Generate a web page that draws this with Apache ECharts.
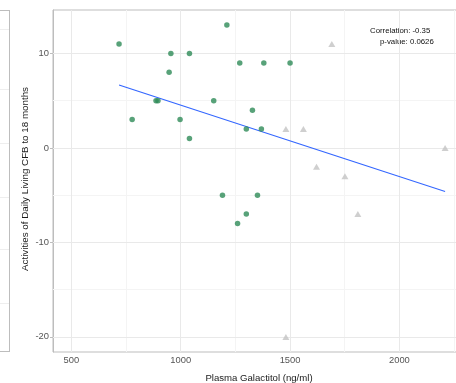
<!DOCTYPE html>
<html>
<head>
<meta charset="utf-8">
<script src="https://cdn.jsdelivr.net/npm/echarts@6/dist/echarts.min.js"></script>
<style>html,body{margin:0;padding:0;background:#fff}#c{width:456px;height:383px}</style>
</head>
<body>
<div id="c"></div>
<script>
// Green (circle) group
var galactitolGreen = [718, 1211, 955, 1040, 947, 887, 896, 778, 997, 1040, 1151, 1191, 1270, 1380, 1500, 1328, 1300, 1369, 1351, 1300, 1260];
var adlGreen        = [11, 13, 10, 10, 8, 5, 5, 3, 3, 1, 5, -5, 9, 9, 9, 4, 2, 2, -5, -7, -8];
// Gray (triangle) group
var galactitolGray = [1691, 1481, 1561, 1621, 1751, 2209, 1810, 1481];
var adlGray        = [11, 2, 2, -2, -3, 0, -7, -20];
// Fitted line end points
var fitX = [718, 2209];
var fitY = [6.66, -4.62];
// Ticks
var xTicks = [500, 1000, 1500, 2000];
var xMinorTicks = [750, 1250, 1750, 2250];
var yTicks = [-20, -10, 0, 10];
var yMinorTicks = [-15, -5, 5];
var xTitle = 'Plasma Galactitol (ng/ml)';
var yTitle = 'Activities of Daily Living CFB to 18 months';
var corrText = 'Correlation: -0.35';
var pText = 'p-value: 0.0626';

function pairs(xs, ys) { return xs.map(function (x, i) { return [x, ys[i]]; }); }

var gridLines = [];
xMinorTicks.forEach(function (v) { gridLines.push({ xAxis: v, lineStyle: { color: '#f4f4f4', width: 1, type: 'solid' } }); });
yMinorTicks.forEach(function (v) { gridLines.push({ yAxis: v, lineStyle: { color: '#f4f4f4', width: 1, type: 'solid' } }); });
xTicks.forEach(function (v) { gridLines.push({ xAxis: v, lineStyle: { color: '#e9e9e9', width: 1, type: 'solid' } }); });
yTicks.forEach(function (v) { gridLines.push({ yAxis: v, lineStyle: { color: '#e9e9e9', width: 1, type: 'solid' } }); });

var font = 'Liberation Sans, Arial, Helvetica, sans-serif';
var chart = echarts.init(document.getElementById('c'), null, { renderer: 'canvas' });
chart.setOption({
  animation: false,
  backgroundColor: '#fff',
  textStyle: { fontFamily: font },
  grid: { left: 53, top: 10, width: 412, height: 342, show: true, borderColor: '#bdbdbd', borderWidth: 1,
    backgroundColor: 'transparent', containLabel: false, outerBoundsMode: 'none' },
  xAxis: {
    type: 'value', min: 416, max: 2300,
    name: xTitle, nameLocation: 'middle', nameGap: 21,
    nameTextStyle: { fontSize: 9.6, color: '#1a1a1a', fontFamily: font },
    axisLine: { show: true, lineStyle: { color: '#bdbdbd', width: 1 } },
    axisTick: { show: true, length: 3, customValues: xTicks, lineStyle: { color: '#bdbdbd' } },
    axisLabel: { customValues: xTicks, fontSize: 9.4, color: '#555', margin: 4, fontFamily: font,
      formatter: function (v) { return String(v); } },
    splitLine: { show: false }
  },
  yAxis: {
    type: 'value', min: -21.6, max: 14.6,
    axisLine: { show: true, lineStyle: { color: '#bdbdbd', width: 1 } },
    axisTick: { show: true, length: 3, customValues: yTicks, lineStyle: { color: '#bdbdbd' } },
    axisLabel: { customValues: yTicks, fontSize: 9.4, color: '#555', margin: 4, fontFamily: font,
      formatter: function (v) { return String(v); } },
    splitLine: { show: false }
  },
  series: [
    {
      type: 'scatter', data: [], z: 1, silent: true,
      markLine: { z: 1, silent: true, symbol: 'none', label: { show: false }, animation: false, data: gridLines }
    },
    {
      type: 'line', data: pairs(fitX, fitY), z: 2, symbol: 'none',
      lineStyle: { color: '#3366ff', width: 1.1 }
    },
    {
      type: 'scatter', data: pairs(galactitolGray, adlGray), symbol: 'triangle', symbolSize: [7, 6], z: 3,
      itemStyle: { color: '#c3c3c3' }
    },
    {
      type: 'scatter', data: pairs(galactitolGreen, adlGreen), symbol: 'circle', symbolSize: 5.5, z: 4,
      itemStyle: { color: '#2e8b57' }
    }
  ],
  graphic: [
    { type: 'text', x: 25, y: 179, rotation: Math.PI / 2,
      style: { text: yTitle, fontSize: 9.8, fill: '#1a1a1a', fontFamily: font, align: 'center', verticalAlign: 'middle' } },
    { type: 'text', left: 370, top: 27, style: { text: corrText, fontSize: 7.8, fill: '#111', fontFamily: font } },
    { type: 'text', left: 380, top: 38, style: { text: pText, fontSize: 7.8, fill: '#111', fontFamily: font } },
    { type: 'line', shape: { x1: 9.5, y1: 10, x2: 9.5, y2: 352 }, style: { stroke: '#bdbdbd', lineWidth: 1 } },
    { type: 'line', shape: { x1: 0, y1: 10.5, x2: 9.5, y2: 10.5 }, style: { stroke: '#bdbdbd', lineWidth: 1 } },
    { type: 'line', shape: { x1: 0, y1: 351.5, x2: 9.5, y2: 351.5 }, style: { stroke: '#bdbdbd', lineWidth: 1 } },
    { type: 'line', shape: { x1: 0, y1: 29.5, x2: 9, y2: 29.5 }, style: { stroke: '#eeeeee', lineWidth: 1 } },
    { type: 'line', shape: { x1: 0, y1: 89.5, x2: 9, y2: 89.5 }, style: { stroke: '#eeeeee', lineWidth: 1 } },
    { type: 'line', shape: { x1: 0, y1: 143.5, x2: 9, y2: 143.5 }, style: { stroke: '#eeeeee', lineWidth: 1 } },
    { type: 'line', shape: { x1: 0, y1: 197.5, x2: 9, y2: 197.5 }, style: { stroke: '#eeeeee', lineWidth: 1 } },
    { type: 'line', shape: { x1: 0, y1: 249.5, x2: 9, y2: 249.5 }, style: { stroke: '#eeeeee', lineWidth: 1 } },
    { type: 'line', shape: { x1: 0, y1: 303.5, x2: 9, y2: 303.5 }, style: { stroke: '#eeeeee', lineWidth: 1 } }
  ]
});
</script>
</body>
</html>
